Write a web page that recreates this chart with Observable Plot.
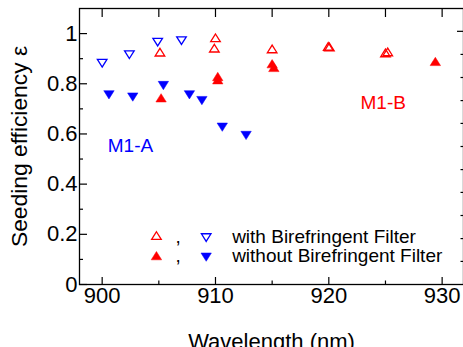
<!DOCTYPE html>
<html>
<head>
<meta charset="utf-8">
<script src="https://cdn.jsdelivr.net/npm/d3@7"></script>
<script src="https://cdn.jsdelivr.net/npm/@observablehq/plot@0.6"></script>
<style>
  html, body { margin: 0; padding: 0; background: #fff; overflow: hidden; }
</style>
</head>
<body>
<div id="chart"></div>
<script>
// ---- data ----
const redOpenX    = [905.1, 909.9, 910.0, 915.0, 919.95, 920.05, 925.0, 925.2];
const redOpenY    = [0.926, 0.942, 0.983, 0.939, 0.949, 0.947, 0.923, 0.927];
const redFilledX  = [905.2, 910.2, 910.2, 915.0, 915.15, 929.4];
const redFilledY  = [0.744, 0.829, 0.816, 0.880, 0.865, 0.889];
const blueOpenX   = [900.0, 902.4, 904.9, 907.0];
const blueOpenY   = [0.882, 0.916, 0.966, 0.972];
const blueFilledX = [900.6, 902.7, 905.4, 907.7, 908.8, 910.6, 912.7];
const blueFilledY = [0.756, 0.747, 0.793, 0.756, 0.733, 0.627, 0.594];

// ---- ticks ----
const xMajorTicks = [900, 910, 920, 930];
const xMinorTicks = [905, 915, 925];
const xTopTicks   = [900, 905, 910, 915, 920, 925, 930];
const yMajorTicks = [0, 0.2, 0.4, 0.6, 0.8, 1];
const yMinorTicks = [0.1, 0.3, 0.5, 0.7, 0.9];
const yRightMinor = [0.092, 0.183, 0.275, 0.367, 0.458, 0.55, 0.642, 0.733, 0.825, 0.917];
const yRightMajor = [1.009];

// ---- text ----
const xTitle = "Wavelength (nm)";
const yTitle = "Seeding efficiency ε";
const groupLabels = [
  {x: 902.5, y: 0.551, text: "M1-A", color: "#0000ff"},
  {x: 924.8, y: 0.725, text: "M1-B", color: "#ff0000"}
];
const legendRows = [
  {text: "with Birefringent Filter",    y: 0.1885, redY: 0.195, blueY: 0.187, open: true},
  {text: "without Birefringent Filter", y: 0.1156, redY: 0.115, blueY: 0.109, open: false}
];
const legendRedX = 904.79, legendBlueX = 909.18, legendCommaX = 906.7, legendTextX = 911.47;

const RED = "#ff0000", BLUE = "#0000ff";
const font = "'Liberation Sans', Arial, Helvetica, sans-serif";

const pts = (xs, ys) => xs.map((x, i) => ({x, y: ys[i]}));

const triUp = {draw(ctx, size) {
  const r = Math.sqrt(size / Math.PI), w = r, h = 0.8 * r;
  ctx.moveTo(0, -h); ctx.lineTo(w, h); ctx.lineTo(-w, h); ctx.closePath();
}};
const triDown = {draw(ctx, size) {
  const r = Math.sqrt(size / Math.PI), w = r, h = 0.8 * r;
  ctx.moveTo(0, h); ctx.lineTo(w, -h); ctx.lineTo(-w, -h); ctx.closePath();
}};

const openStyle = c => ({fill: "none", stroke: c, strokeWidth: 1.3, r: 4.8});
const fillStyle = c => ({fill: c, stroke: c, strokeWidth: 0.5, r: 5.2});

const legendMarks = legendRows.flatMap(row => [
  Plot.dot([row], {x: () => legendRedX, y: "redY", symbol: triUp, ...(row.open ? openStyle(RED) : fillStyle(RED))}),
  Plot.dot([row], {x: () => legendBlueX, y: "blueY", symbol: triDown, ...(row.open ? openStyle(BLUE) : fillStyle(BLUE))}),
  Plot.text([row], {x: () => legendCommaX, y: "y", text: () => ",", fontSize: 19, fill: "black"}),
  Plot.text([row], {x: () => legendTextX, y: "y", text: "text", textAnchor: "start", fontSize: 19, fill: "black"})
]);

const tickOpts = {tickFormat: () => "", strokeWidth: 1.2, label: null};

const chart = Plot.plot({
  width: 463,
  height: 347,
  marginTop: 8,
  marginBottom: 63,
  marginLeft: 79,
  marginRight: 0,
  style: {fontFamily: font, fontSize: "22px", background: "white", color: "black", overflow: "hidden"},
  x: {domain: [898, 932], range: [79, 464.3]},
  y: {domain: [0, 1.1], range: [284, 8]},
  marks: [
    // tick marks (inside)
    Plot.axisX(xMajorTicks, {anchor: "bottom", tickSize: -7, ...tickOpts}),
    Plot.axisX(xMinorTicks, {anchor: "bottom", tickSize: -3.5, ...tickOpts}),
    Plot.axisX(xTopTicks, {anchor: "top", tickSize: -8, ...tickOpts}),
    Plot.axisY(yMajorTicks, {anchor: "left", tickSize: -8, ...tickOpts}),
    Plot.axisY(yMinorTicks, {anchor: "left", tickSize: -4, ...tickOpts}),
    Plot.axisY(yRightMajor, {anchor: "right", tickSize: -7, ...tickOpts}),
    Plot.axisY(yRightMinor, {anchor: "right", tickSize: -3.5, ...tickOpts}),
    // tick labels + titles
    Plot.axisX(xMajorTicks, {anchor: "bottom", tickSize: 0, tickPadding: 3, fontSize: 22,
      label: xTitle, labelAnchor: "center", labelArrow: "none", labelOffset: 64}),
    Plot.axisY(yMajorTicks, {anchor: "left", tickSize: 0, tickPadding: 2, fontSize: 22, label: null,
      tickFormat: d => d === 0 ? "0" : d === 1 ? "1" : d3.format(".1f")(d)}),
    Plot.axisY([], {anchor: "left", tickSize: 0, fontSize: 22.8, dy: 4,
      label: yTitle, labelAnchor: "center", labelArrow: "none", labelOffset: 69}),
    // frame
    Plot.frame({stroke: "black", strokeWidth: 1.3}),
    // data
    Plot.dot(pts(blueOpenX, blueOpenY), {x: "x", y: "y", symbol: triDown, ...openStyle(BLUE)}),
    Plot.dot(pts(redOpenX, redOpenY), {x: "x", y: "y", symbol: triUp, ...openStyle(RED)}),
    Plot.dot(pts(blueFilledX, blueFilledY), {x: "x", y: "y", symbol: triDown, ...fillStyle(BLUE)}),
    Plot.dot(pts(redFilledX, redFilledY), {x: "x", y: "y", symbol: triUp, ...fillStyle(RED)}),
    // group labels
    Plot.text(groupLabels, {x: "x", y: "y", text: "text", fill: "color", fontSize: 19}),
    ...legendMarks
  ]
});
document.getElementById("chart").appendChild(chart);
</script>
</body>
</html>
